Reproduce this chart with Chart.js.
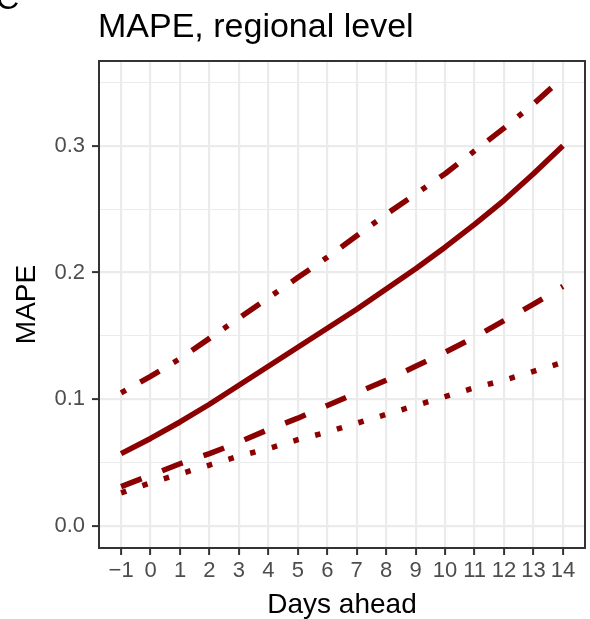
<!DOCTYPE html>
<html>
<head>
<meta charset="utf-8">
<script src="https://cdn.jsdelivr.net/npm/chart.js@4.4.0/dist/chart.umd.min.js"></script>
<style>
html, body { margin: 0; padding: 0; background: #fff; }
#wrap { width: 590px; height: 619px; position: relative; }
</style>
</head>
<body>
<div id="wrap"><canvas id="mapeChart"></canvas></div>
<script>
// MAPE by forecast horizon, regional level

const daysAhead = [-1, 0, 1, 2, 3, 4, 5, 6, 7, 8, 9, 10, 11, 12, 13, 14];
const mapeSolid   = [0.057, 0.069, 0.082, 0.096, 0.111, 0.126, 0.141, 0.156, 0.171, 0.187, 0.203, 0.220, 0.238, 0.257, 0.278, 0.300];
const mapeDotDash = [0.105, 0.118, 0.132, 0.148, 0.164, 0.180, 0.196, 0.212, 0.229, 0.246, 0.262, 0.278, 0.296, 0.314, 0.333, 0.354];
const mapeDashed  = [0.031, 0.040, 0.049, 0.057, 0.066, 0.076, 0.085, 0.095, 0.105, 0.115, 0.126, 0.137, 0.149, 0.162, 0.175, 0.189];
const mapeDotted  = [0.026, 0.034, 0.041, 0.048, 0.055, 0.061, 0.068, 0.074, 0.081, 0.088, 0.095, 0.102, 0.109, 0.115, 0.122, 0.129];

const yMajorBreaks = [0.0, 0.1, 0.2, 0.3];
const yMinorBreaks = [0.05, 0.15, 0.25, 0.35];
const xBreaks = daysAhead;

const titleText = 'MAPE, regional level';
const panelTag = 'C';

const lineColor = '#8B0000';
const fontFamily = '"Liberation Sans", Arial, Helvetica, sans-serif';

function toPoints(values) {
  const pts = [];
  for (let i = 0; i < daysAhead.length; i++) {
    pts.push({ x: daysAhead[i], y: values[i] });
  }
  return pts;
}

function makeLine(label, values, dash) {
  return {
    label: label,
    data: toPoints(values),
    borderColor: lineColor,
    backgroundColor: 'transparent',
    borderWidth: 5.5,
    borderDash: dash,
    borderCapStyle: 'butt',
    borderJoinStyle: 'round',
    pointRadius: 0,
    tension: 0
  };
}

// title, panel tag and full panel border (ggplot theme_bw look)
const decorPlugin = {
  id: 'decor',
  afterDraw(chart) {
    const c = chart.ctx;
    const a = chart.chartArea;
    c.save();
    c.strokeStyle = '#333333';
    c.lineWidth = 2;
    c.strokeRect(a.left, a.top, a.right - a.left, a.bottom - a.top);
    c.fillStyle = '#000';
    c.textBaseline = 'alphabetic';
    c.textAlign = 'left';
    c.font = '34px ' + fontFamily;
    c.fillText(titleText, a.left - 1, 37);
    c.font = '32px ' + fontFamily;
    c.fillText(panelTag, -4, 9);
    c.restore();
  }
};

const ctx = document.getElementById('mapeChart');

new Chart(ctx.getContext('2d'), {
  type: 'line',
  data: {
    datasets: [
      makeLine('solid', mapeSolid, []),
      makeLine('dotdash', mapeDotDash, [5.5, 16.5, 22, 16.5]),
      makeLine('dashed', mapeDashed, [22, 22]),
      makeLine('dotted', mapeDotted, [5.5, 17])
    ]
  },
  options: {
    responsive: true,
    maintainAspectRatio: false,
    animation: false,
    layout: { padding: { top: 61, right: 5, left: 0, bottom: 0 } },
    plugins: {
      legend: { display: false },
      title: { display: false },
      tooltip: { enabled: false }
    },
    scales: {
      x: {
        type: 'linear',
        min: -1.75,
        max: 14.75,
        afterBuildTicks: function(scale) {
          scale.ticks = xBreaks.map(v => ({ value: v }));
        },
        afterFit: function(scale) { scale.height = 71; },
        ticks: {
          autoSkip: false,
          maxRotation: 0,
          padding: 3,
          color: '#4D4D4D',
          font: { family: fontFamily, size: 22 },
          callback: function(value) {
            return value < 0 ? '\u2212' + Math.abs(value) : String(value);
          }
        },
        grid: {
          color: '#EBEBEB',
          lineWidth: 2.2,
          tickColor: '#333333',
          tickWidth: 2,
          tickLength: 7
        },
        border: { display: false },
        title: {
          display: true,
          text: 'Days ahead',
          color: '#000',
          padding: { top: 0, bottom: 0 },
          font: { family: fontFamily, size: 28, lineHeight: 1 }
        }
      },
      y: {
        type: 'linear',
        min: -0.0175,
        max: 0.367,
        afterBuildTicks: function(scale) {
          const t = [];
          yMajorBreaks.forEach(v => t.push({ value: v, minor: false }));
          yMinorBreaks.forEach(v => t.push({ value: v, minor: true }));
          t.sort((p, q) => p.value - q.value);
          scale.ticks = t;
        },
        afterFit: function(scale) { scale.width = 99; },
        ticks: {
          autoSkip: false,
          padding: 7,
          color: '#4D4D4D',
          font: { family: fontFamily, size: 22 },
          callback: function(value, index, ticks) {
            return ticks[index].minor ? '' : value.toFixed(1);
          }
        },
        grid: {
          color: '#EBEBEB',
          lineWidth: c => (c.tick && c.tick.minor) ? 1.1 : 2.2,
          tickColor: c => (c.tick && c.tick.minor) ? 'rgba(0,0,0,0)' : '#333333',
          tickWidth: 2,
          tickLength: 7
        },
        border: { display: false },
        title: {
          display: true,
          text: 'MAPE',
          color: '#000',
          padding: { top: 13, bottom: 0 },
          font: { family: fontFamily, size: 28, lineHeight: 1 }
        }
      }
    }
  },
  plugins: [decorPlugin]
});
</script>
</body>
</html>
